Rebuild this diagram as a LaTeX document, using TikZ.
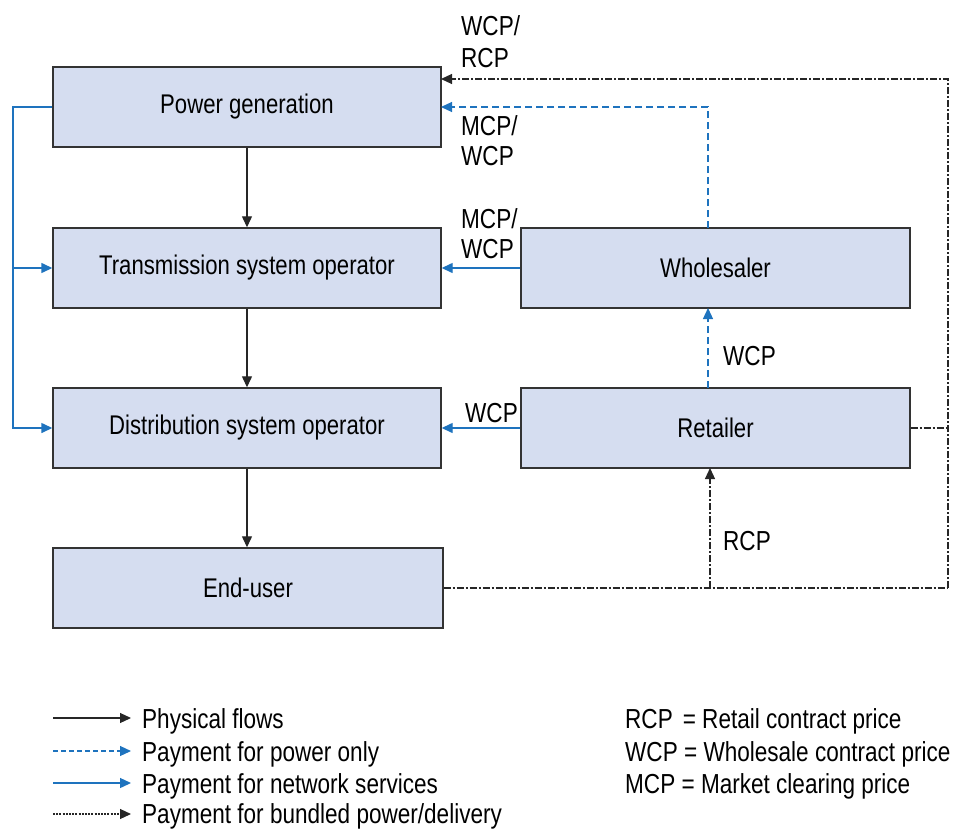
\documentclass[tikz,border=0pt]{standalone}
\usepackage{fontspec}
\setmainfont{Liberation Sans}[FakeStretch=0.82]
\usetikzlibrary{arrows.meta}
\definecolor{boxfill}{HTML}{D5DDF0}
\definecolor{payblue}{HTML}{1E73BE}
\begin{document}
\begin{tikzpicture}[x=1pt,y=-1pt,
  box/.style={draw=black!80,line width=1.4pt,fill=boxfill,minimum width=388pt,minimum height=80pt,inner sep=0pt,font=\fontsize{27}{32}\selectfont},
  lbl/.style={font=\fontsize{27.5}{32}\selectfont,inner sep=0pt},
  tip/.style={-{Triangle[length=11pt,width=10pt]}},
  physarrow/.style={draw=black!85,line width=1.2pt,tip},
  powarrow/.style={draw=payblue,line width=1.2pt,dash pattern=on 7pt off 4pt,tip},
  netarrow/.style={draw=payblue,line width=1.4pt,tip},
  bundline/.style={draw=black!85,line width=1.2pt,dash pattern=on 7pt off 2pt on 2pt off 2pt},
  bundarrow/.style={bundline,tip}]
\useasboundingbox (0,0) rectangle (955,830);
\node[box] (pg) at (247,107) {Power generation};
\node[box] (tso) at (247,268) {Transmission system operator};
\node[box] (dso) at (247,428) {Distribution system operator};
\node[box,minimum width=390pt] (eu) at (248,588) {End-user};
\node[box,minimum width=389pt] (ws) at (715.5,268) {Wholesaler};
\node[box,minimum width=389pt] (rt) at (715.5,428) {Retailer};
% physical flows
\draw[physarrow] (pg.south) -- (tso.north);
\draw[physarrow] (tso.south) -- (dso.north);
\draw[physarrow] (dso.south) -- (eu.north -| dso.south);
% network services from generation
\coordinate (lc) at (13,107);
\draw[netarrow] (pg.west) -- (lc) |- (tso.west);
\draw[netarrow] (lc) |- (dso.west);
% wholesaler / retailer payments
\draw[netarrow] (ws.west) -- (tso.east);
\draw[netarrow] (rt.west) -- (dso.east);
\coordinate (wsTop) at (708,228);
\coordinate (wsBot) at (708,308);
\coordinate (rtTop) at (708,388);
\coordinate (pgIn) at (441,107);
\draw[powarrow] (wsTop) |- (pgIn);
\draw[powarrow] (rtTop) -- (wsBot);
% bundled
\coordinate (cr) at (948,79);
\coordinate (cb) at (948,588);
\coordinate (pgTopIn) at (441,79);
\coordinate (rtBot) at (710,468);
\coordinate (euJ) at (710,588);
\draw[bundline] (eu.east) -- (cb);
\draw[bundarrow] (cb) -- (cr) -- (pgTopIn);
\draw[bundline] (rt.east) -- (rt.east -| cb);
\draw[bundarrow] (euJ) -- (rtBot);
% labels
\node[lbl,anchor=base west] (l1a) at (461,35) {WCP/};
\node[lbl,anchor=base west] (l1b) at (461,67) {RCP};
\node[lbl,anchor=base west] (l2a) at (461,135) {MCP/};
\node[lbl,anchor=base west] (l2b) at (461,165) {WCP};
\node[lbl,anchor=base west] (l3a) at (461,228) {MCP/};
\node[lbl,anchor=base west] (l3b) at (461,258) {WCP};
\node[lbl,anchor=base west] (l4) at (465,422) {WCP};
\node[lbl,anchor=base west] (l5) at (723,365) {WCP};
\node[lbl,anchor=base west] (l6) at (723,550) {RCP};
% legend
\coordinate (a1) at (53,718); \coordinate (b1) at (131,718);
\coordinate (a2) at (53,751); \coordinate (b2) at (131,751);
\coordinate (a3) at (53,783); \coordinate (b3) at (131,783);
\coordinate (a4) at (53,814); \coordinate (b4) at (131,814);
\draw[physarrow] (a1) -- (b1);
\draw[powarrow,dash pattern=on 5pt off 3pt] (a2) -- (b2);
\draw[netarrow] (a3) -- (b3);
\draw[bundarrow,dash pattern=on 2pt off 1.2pt] (a4) -- (b4);
\node[lbl,anchor=base west] (t1) at (142,728) {Physical flows};
\node[lbl,anchor=base west] (t2) at (142,761) {Payment for power only};
\node[lbl,anchor=base west] (t3) at (142,793) {Payment for network services};
\node[lbl,anchor=base west] (t4) at (142,823) {Payment for bundled power/delivery};
\node[lbl,anchor=base west] (r1) at (625,728) {RCP\hspace{10pt}= Retail contract price};
\node[lbl,anchor=base west] (r2) at (625,761) {WCP = Wholesale contract price};
\node[lbl,anchor=base west] (r3) at (625,793) {MCP = Market clearing price};
\end{tikzpicture}
\end{document}
